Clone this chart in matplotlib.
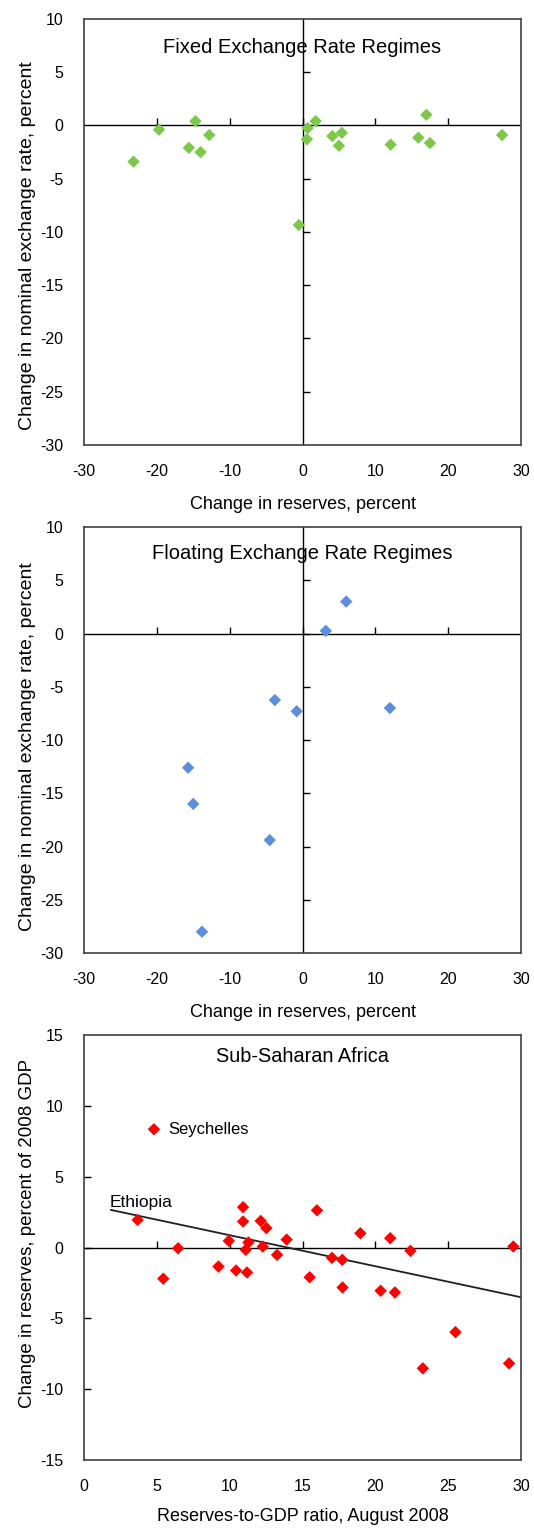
import matplotlib
matplotlib.use('Agg')
from matplotlib import pyplot as plt
import numpy as np

plt.rcParams['font.family'] = ['Liberation Sans Narrow', 'Liberation Sans', 'DejaVu Sans']
plt.rcParams['axes.unicode_minus'] = False

# Fixed exchange rate regimes: change in reserves (x) vs change in nominal rate (y)
fixed_reserves = [-23.2, -19.7, -14.7, -15.6, -14.0, -12.8, -0.5, 0.6, 0.7, 1.8,
                  4.1, 5.4, 5.0, 12.1, 15.9, 17.0, 17.5, 27.4]
fixed_rate = [-3.4, -0.4, 0.4, -2.1, -2.5, -0.9, -9.35, -1.3, -0.25, 0.4,
              -1.0, -0.7, -1.9, -1.8, -1.15, 1.0, -1.65, -0.9]

# Floating exchange rate regimes
float_reserves = [6.0, 3.2, -3.8, -0.8, 12.0, -15.7, -15.0, -4.5, -13.8]
float_rate = [3.0, 0.25, -6.25, -7.3, -7.0, -12.6, -16.0, -19.4, -28.0]

# Sub-Saharan Africa: reserves-to-GDP ratio vs change in reserves
ssa_ratio = [4.8, 3.68, 6.46, 5.44, 9.94, 9.23, 10.44, 10.92, 10.92, 11.29, 11.1,
             11.19, 12.13, 12.52, 12.27, 13.25, 13.91, 15.49, 15.99, 17.02, 17.73,
             17.75, 18.97, 20.36, 21.02, 21.34, 22.41, 29.47, 25.5, 23.26, 29.18]
ssa_change = [8.35, 1.95, -0.05, -2.2, 0.47, -1.34, -1.62, 2.85, 1.84, 0.36, -0.16,
              -1.76, 1.88, 1.37, 0.07, -0.52, 0.56, -2.1, 2.63, -0.73, -0.87,
              -2.82, 1.01, -3.05, 0.66, -3.17, -0.23, 0.07, -5.97, -8.53, -8.18]
ssa_labels = {0: 'Seychelles', 1: 'Ethiopia'}

trend_x = [1.85, 30.0]
trend_intercept = 3.06
trend_slope = -0.219

fixed_color = '#7dc849'
float_color = '#5b8fde'
ssa_color = '#ff0000'

xticks_top = [-30, -20, -10, 0, 10, 20, 30]
yticks_top = [10, 5, 0, -5, -10, -15, -20, -25, -30]
xticks_ssa = [0, 5, 10, 15, 20, 25, 30]
yticks_ssa = [15, 10, 5, 0, -5, -10, -15]


def style_axes(ax, xticks, yticks, xlim, ylim, cross_y_axis):
  ax.set_xlim(xlim)
  ax.set_ylim(ylim)
  ax.set_xticks(xticks)
  ax.set_yticks(yticks)
  for s in ax.spines.values():
    s.set_color('#404040')
    s.set_linewidth(1.2)
  ax.tick_params(axis='x', length=0, pad=14, labelsize=11.5)
  ax.tick_params(axis='y', length=0, pad=15, labelsize=11.5)
  ax.axhline(0, color='black', lw=1.0, zorder=1)
  # ticks sitting on the zero line
  inner_x = [t for t in xticks if xlim[0] < t < xlim[1]]
  ax.plot(inner_x, np.zeros(len(inner_x)), linestyle='none', marker=2,
          markersize=5, color='black', mew=1.0, zorder=1)
  inner_y = [t for t in yticks if ylim[0] < t < ylim[1]]
  if cross_y_axis:
    ax.axvline(0, color='black', lw=1.0, zorder=1)
    ax.plot(np.zeros(len(inner_y)), inner_y, linestyle='none', marker=1,
            markersize=5, color='black', mew=1.0, zorder=1)
  else:
    ax.plot(np.full(len(inner_y), xlim[0]), inner_y, linestyle='none', marker=1,
            markersize=5, color='black', mew=1.0, zorder=1, clip_on=False)


fig = plt.figure(figsize=(5.34, 15.28), dpi=100)
ax1 = fig.add_axes([0.1573, 0.7088, 0.8184, 0.2788])
ax2 = fig.add_axes([0.1573, 0.3763, 0.8184, 0.2788])
ax3 = fig.add_axes([0.1573, 0.0445, 0.8184, 0.2781])

# panel 1
style_axes(ax1, xticks_top, yticks_top, (-30, 30), (-30, 10), True)
ax1.scatter(fixed_reserves, fixed_rate, marker='D', s=40, color=fixed_color,
            edgecolors='none', zorder=3)
ax1.text(0, 7.3, 'Fixed Exchange Rate Regimes', ha='center', va='center', fontsize=14.5)
ax1.set_xlabel('Change in reserves, percent', fontsize=13, labelpad=12)
ax1.set_ylabel('Change in nominal exchange rate, percent', fontsize=14)
ax1.yaxis.set_label_coords(-0.11, 0.467)

# panel 2
style_axes(ax2, xticks_top, yticks_top, (-30, 30), (-30, 10), True)
ax2.scatter(float_reserves, float_rate, marker='D', s=40, color=float_color,
            edgecolors='none', zorder=3)
ax2.text(0, 7.55, 'Floating Exchange Rate Regimes', ha='center', va='center', fontsize=14.5)
ax2.set_xlabel('Change in reserves, percent', fontsize=13, labelpad=12)
ax2.set_ylabel('Change in nominal exchange rate, percent', fontsize=14)
ax2.yaxis.set_label_coords(-0.11, 0.485)

# panel 3
style_axes(ax3, xticks_ssa, yticks_ssa, (0, 30), (-15, 15), False)
ax3.scatter(ssa_ratio, ssa_change, marker='D', s=40, color=ssa_color,
            edgecolors='none', zorder=3)
tx = np.array(trend_x)
ax3.plot(tx, trend_intercept + trend_slope * tx, color='#202020', lw=1.3, zorder=2)
ax3.text(15, 13.5, 'Sub-Saharan Africa', ha='center', va='center', fontsize=14.3)
i = 0
ax3.text(ssa_ratio[i] + 1.0, ssa_change[i], ssa_labels[i], ha='left', va='center', fontsize=12)
i = 1
ax3.text(ssa_ratio[i] - 1.9, ssa_change[i] + 1.25, ssa_labels[i], ha='left', va='center', fontsize=12.5)
ax3.set_xlabel('Reserves-to-GDP ratio, August 2008', fontsize=13, labelpad=10)
ax3.set_ylabel('Change in reserves, percent of 2008 GDP', fontsize=13.5)
ax3.yaxis.set_label_coords(-0.11, 0.534)

fig.savefig('out.png', dpi=100)
